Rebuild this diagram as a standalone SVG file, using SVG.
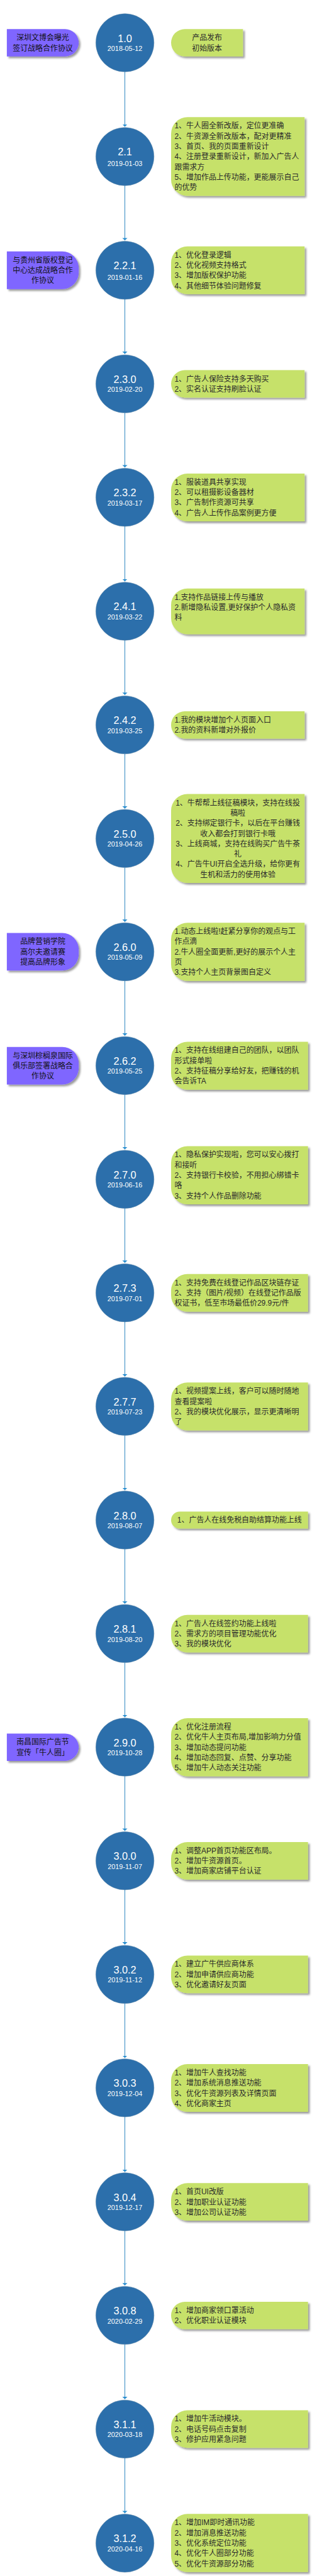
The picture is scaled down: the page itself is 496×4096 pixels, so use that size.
<svg xmlns="http://www.w3.org/2000/svg" width="496" height="4096" viewBox="0 0 496 4096">
<style>
text{font-family:"Liberation Sans","Noto Sans CJK SC",sans-serif}
.c{fill:#2c6fab;stroke:#5d87a8;stroke-width:1}
.g{fill:#c6e16b;filter:url(#s)}
.p{fill:#7f66ff;filter:url(#s)}
.v{font-size:30px;fill:#fff;text-anchor:middle}
.d{font-size:20px;fill:#fff;text-anchor:middle}
.t{font-size:22px;fill:#2a2a2a}
.m{font-size:22px;fill:#2a2a2a;text-anchor:middle}
.k{font-size:22px;fill:#111;text-anchor:middle}
.l{stroke:#2d86c0;stroke-width:1.8;fill:none;marker-end:url(#a)}
</style>
<defs>
<filter id="s" x="-10%" y="-15%" width="120%" height="130%"><feDropShadow dx="5" dy="5" stdDeviation="3" flood-color="#000" flood-opacity="0.4"/></filter>
<marker id="a" markerUnits="userSpaceOnUse" markerWidth="8" markerHeight="15" refX="7" refY="7.5" orient="auto"><path d="M0,0L7,7.5L0,15Z" fill="#2b8fd0"/></marker>
</defs>
<rect width="496" height="4096" fill="#fff"/>
<g transform="scale(0.544)">
<g id="connectors" transform="translate(-0.1,0)">
<line class="l" x1="365" y1="210" x2="365" y2="370.2"/>
<line class="l" x1="365" y1="542.6" x2="365" y2="702.6"/>
<line class="l" x1="365" y1="875" x2="365" y2="1034.6"/>
<line class="l" x1="365" y1="1207" x2="365" y2="1366.3"/>
<line class="l" x1="365" y1="1538.7" x2="365" y2="1699.3"/>
<line class="l" x1="365" y1="1871.7" x2="365" y2="2031.4"/>
<line class="l" x1="365" y1="2203.8" x2="365" y2="2363.6"/>
<line class="l" x1="365" y1="2536" x2="365" y2="2694.6"/>
<line class="l" x1="365" y1="2867" x2="365" y2="3027.3"/>
<line class="l" x1="365" y1="3199.7" x2="365" y2="3359.6"/>
<line class="l" x1="365" y1="3532" x2="365" y2="3691.4"/>
<line class="l" x1="365" y1="3863.8" x2="365" y2="4023.3"/>
<line class="l" x1="365" y1="4195.7" x2="365" y2="4355.6"/>
<line class="l" x1="365" y1="4528" x2="365" y2="4687.4"/>
<line class="l" x1="365" y1="4859.8" x2="365" y2="5019.3"/>
<line class="l" x1="365" y1="5191.7" x2="365" y2="5351.6"/>
<line class="l" x1="365" y1="5524" x2="365" y2="5683.6"/>
<line class="l" x1="365" y1="5856" x2="365" y2="6015.3"/>
<line class="l" x1="365" y1="6187.7" x2="365" y2="6348.4"/>
<line class="l" x1="365" y1="6520.8" x2="365" y2="6680.3"/>
<line class="l" x1="365" y1="6852.7" x2="365" y2="7012.6"/>
<line class="l" x1="365" y1="7185" x2="365" y2="7346.1"/>
</g>

<g id="event-1-0"><path class="p" d="M20,85H190A40,40 0 0 1 230,125A40,40 0 0 1 190,165H20Z"/><text class="k" x="125" y="118">深圳文博会曝光</text><text class="k" x="125" y="148">签订战略合作协议</text></g>
<g id="v-1-0"><circle class="c" cx="365" cy="125" r="85"/><text class="v" x="365" y="122.3">1.0</text><text class="d" x="365" y="149">2018-05-12</text></g>
<g id="note-1-0"><path class="g" d="M540,85H710V165H540A40,40 0 0 1 500,125A40,40 0 0 1 540,85Z"/><text class="m" x="605" y="118">产品发布</text><text class="m" x="605" y="148">初始版本</text></g>

<g id="v-2-1"><circle class="c" cx="365" cy="457.6" r="85"/><text class="v" x="365" y="454.9">2.1</text><text class="d" x="365" y="485.6">2019-01-03</text></g>
<g id="note-2-1"><path class="g" d="M548,342.6H890V572.6H548A48,48 0 0 1 500,524.6V390.6A48,48 0 0 1 548,342.6Z"/><text class="t" x="510" y="375.6">1、牛人圈全新改版，定位更准确</text><text class="t" x="510" y="405.6">2、牛资源全新改版本，配对更精准</text><text class="t" x="510" y="435.6">3、首页、我的页面重新设计</text><text class="t" x="510" y="465.6">4、注册登录重新设计，新加入广告人</text><text class="t" x="510" y="495.6">跟需求方</text><text class="t" x="510" y="525.6">5、增加作品上传功能，更能展示自己</text><text class="t" x="510" y="555.6">的优势</text></g>

<g id="event-2-2-1"><path class="p" d="M20,735H182A48,48 0 0 1 230,783V797A48,48 0 0 1 182,845H20Z"/><text class="k" x="125" y="768">与贵州省版权登记</text><text class="k" x="125" y="798">中心达成战略合作</text><text class="k" x="125" y="828">作协议</text></g>
<g id="v-2-2-1"><circle class="c" cx="365" cy="790" r="85"/><text class="v" x="365" y="787.3">2.2.1</text><text class="d" x="365" y="818">2019-01-16</text></g>
<g id="note-2-2-1"><path class="g" d="M548,720H890V860H548A48,48 0 0 1 500,812V768A48,48 0 0 1 548,720Z"/><text class="t" x="510" y="753">1、优化登录逻辑</text><text class="t" x="510" y="783">2、优化视频支持格式</text><text class="t" x="510" y="813">3、增加版权保护功能</text><text class="t" x="510" y="843">4、其他细节体验问题修复</text></g>

<g id="v-2-3-0"><circle class="c" cx="365" cy="1122" r="85"/><text class="v" x="365" y="1119.3">2.3.0</text><text class="d" x="365" y="1146">2019-02-20</text></g>
<g id="note-2-3-0"><path class="g" d="M540,1082H890V1162H540A40,40 0 0 1 500,1122A40,40 0 0 1 540,1082Z"/><text class="t" x="510" y="1115">1、广告人保险支持多天购买</text><text class="t" x="510" y="1145">2、实名认证支持刷脸认证</text></g>

<g id="v-2-3-2"><circle class="c" cx="365" cy="1453.7" r="85"/><text class="v" x="365" y="1451">2.3.2</text><text class="d" x="365" y="1477.7">2019-03-17</text></g>
<g id="note-2-3-2"><path class="g" d="M548,1384H890V1524H548A48,48 0 0 1 500,1476V1432A48,48 0 0 1 548,1384Z"/><text class="t" x="510" y="1417">1、服装道具共享实现</text><text class="t" x="510" y="1447">2、可以租摄影设备器材</text><text class="t" x="510" y="1477">3、广告制作资源可共享</text><text class="t" x="510" y="1507">4、广告人上传作品案例更方便</text></g>

<g id="v-2-4-1"><circle class="c" cx="365" cy="1786.7" r="85"/><text class="v" x="365" y="1784">2.4.1</text><text class="d" x="365" y="1810.7">2019-03-22</text></g>
<g id="note-2-4-1"><path class="g" d="M548,1720H890V1854H548A48,48 0 0 1 500,1806V1768A48,48 0 0 1 548,1720Z"/><text class="t" x="510" y="1753">1.支持作品链接上传与播放</text><text class="t" x="510" y="1783">2.新增隐私设置,更好保护个人隐私资</text><text class="t" x="510" y="1813">料</text></g>

<g id="v-2-4-2"><circle class="c" cx="365" cy="2118.8" r="85"/><text class="v" x="365" y="2116.1">2.4.2</text><text class="d" x="365" y="2142.8">2019-03-25</text></g>
<g id="note-2-4-2"><path class="g" d="M540,2079H890V2159H540A40,40 0 0 1 500,2119A40,40 0 0 1 540,2079Z"/><text class="t" x="510" y="2112">1.我的模块增加个人页面入口</text><text class="t" x="510" y="2142">2.我的资料新增对外报价</text></g>

<g id="v-2-5-0"><circle class="c" cx="365" cy="2451" r="85"/><text class="v" x="365" y="2448.3">2.5.0</text><text class="d" x="365" y="2475">2019-04-26</text></g>
<g id="note-2-5-0"><path class="g" d="M548,2321H890V2581H548A48,48 0 0 1 500,2533V2369A48,48 0 0 1 548,2321Z"/><text class="m" x="695" y="2354">1、牛帮帮上线征稿模块，支持在线投</text><text class="m" x="695" y="2384">稿啦</text><text class="m" x="695" y="2414">2、支持绑定银行卡，以后在平台赚钱</text><text class="m" x="695" y="2444">收入都会打到银行卡哦</text><text class="m" x="695" y="2474">3、上线商城，支持在线购买广告牛茶</text><text class="m" x="695" y="2504">礼</text><text class="m" x="695" y="2534">4、广告牛UI开启全选升级，给你更有</text><text class="m" x="695" y="2564">生机和活力的使用体验</text></g>

<g id="event-2-6-0"><path class="p" d="M20,2727H182A48,48 0 0 1 230,2775V2789A48,48 0 0 1 182,2837H20Z"/><text class="k" x="125" y="2760">品牌营销学院</text><text class="k" x="125" y="2790">高尔夫邀请赛</text><text class="k" x="125" y="2820">提高品牌形象</text></g>
<g id="v-2-6-0"><circle class="c" cx="365" cy="2782" r="85"/><text class="v" x="365" y="2779.3">2.6.0</text><text class="d" x="365" y="2806">2019-05-09</text></g>
<g id="note-2-6-0"><path class="g" d="M548,2697H890V2867H548A48,48 0 0 1 500,2819V2745A48,48 0 0 1 548,2697Z"/><text class="t" x="510" y="2730">1.动态上线啦!赶紧分享你的观点与工</text><text class="t" x="510" y="2760">作点滴</text><text class="t" x="510" y="2790">2.牛人圈全面更新,更好的展示个人主</text><text class="t" x="510" y="2820">页</text><text class="t" x="510" y="2850">3.支持个人主页背景图自定义</text></g>

<g id="event-2-6-2"><path class="p" d="M20,3060H182A48,48 0 0 1 230,3108V3122A48,48 0 0 1 182,3170H20Z"/><text class="k" x="125" y="3093">与深圳棕榈泉国际</text><text class="k" x="125" y="3123">俱乐部签署战略合</text><text class="k" x="125" y="3153">作协议</text></g>
<g id="v-2-6-2"><circle class="c" cx="365" cy="3114.7" r="85"/><text class="v" x="365" y="3112">2.6.2</text><text class="d" x="365" y="3138.7">2019-05-25</text></g>
<g id="note-2-6-2"><path class="g" d="M548,3045H900V3185H548A48,48 0 0 1 500,3137V3093A48,48 0 0 1 548,3045Z"/><text class="t" x="510" y="3078">1、支持在线组建自己的团队，以团队</text><text class="t" x="510" y="3108">形式接单啦</text><text class="t" x="510" y="3138">2、支持征稿分享给好友，把赚钱的机</text><text class="t" x="510" y="3168">会告诉TA</text></g>

<g id="v-2-7-0"><circle class="c" cx="365" cy="3447" r="85"/><text class="v" x="365" y="3444.3">2.7.0</text><text class="d" x="365" y="3471">2019-06-16</text></g>
<g id="note-2-7-0"><path class="g" d="M548,3350H900V3520H548A48,48 0 0 1 500,3472V3398A48,48 0 0 1 548,3350Z"/><text class="t" x="510" y="3383">1、隐私保护实现啦，您可以安心拨打</text><text class="t" x="510" y="3413">和接听</text><text class="t" x="510" y="3443">2、支持银行卡校验，不用担心绑错卡</text><text class="t" x="510" y="3473">咯</text><text class="t" x="510" y="3503">3、支持个人作品删除功能</text></g>

<g id="v-2-7-3"><circle class="c" cx="365" cy="3778.8" r="85"/><text class="v" x="365" y="3776.1">2.7.3</text><text class="d" x="365" y="3802.8">2019-07-01</text></g>
<g id="note-2-7-3"><path class="g" d="M548,3724H900V3834H548A48,48 0 0 1 500,3786V3772A48,48 0 0 1 548,3724Z"/><text class="t" x="510" y="3757">1、支持免费在线登记作品区块链存证</text><text class="t" x="510" y="3787">2、支持（图片/视频）在线登记作品版</text><text class="t" x="510" y="3817">权证书，低至市场最低价29.9元/件</text></g>

<g id="v-2-7-7"><circle class="c" cx="365" cy="4110.7" r="85"/><text class="v" x="365" y="4108">2.7.7</text><text class="d" x="365" y="4134.7">2019-07-23</text></g>
<g id="note-2-7-7"><path class="g" d="M548,4041H900V4181H548A48,48 0 0 1 500,4133V4089A48,48 0 0 1 548,4041Z"/><text class="t" x="510" y="4074">1、视频提案上线，客户可以随时随地</text><text class="t" x="510" y="4104">查看提案啦</text><text class="t" x="510" y="4134">2、我的模块优化展示，显示更清晰明</text><text class="t" x="510" y="4164">了</text></g>

<g id="v-2-8-0"><circle class="c" cx="365" cy="4443" r="85"/><text class="v" x="365" y="4440.3">2.8.0</text><text class="d" x="365" y="4467">2019-08-07</text></g>
<g id="note-2-8-0"><path class="g" d="M525,4418H900V4468H525A25,25 0 0 1 500,4443A25,25 0 0 1 525,4418Z"/><text class="m" x="700" y="4451">1、广告人在线免税自助结算功能上线</text></g>

<g id="v-2-8-1"><circle class="c" cx="365" cy="4774.8" r="85"/><text class="v" x="365" y="4772.1">2.8.1</text><text class="d" x="365" y="4798.8">2019-08-20</text></g>
<g id="note-2-8-1"><path class="g" d="M548,4720H900V4830H548A48,48 0 0 1 500,4782V4768A48,48 0 0 1 548,4720Z"/><text class="t" x="510" y="4753">1、广告人在线签约功能上线啦</text><text class="t" x="510" y="4783">2、需求方的项目管理功能优化</text><text class="t" x="510" y="4813">3、我的模块优化</text></g>

<g id="event-2-9-0"><path class="p" d="M20,5067H190A40,40 0 0 1 230,5107A40,40 0 0 1 190,5147H20Z"/><text class="k" x="125" y="5100">南昌国际广告节</text><text class="k" x="125" y="5130">宣传「牛人圈」</text></g>
<g id="v-2-9-0"><circle class="c" cx="365" cy="5106.7" r="85"/><text class="v" x="365" y="5104">2.9.0</text><text class="d" x="365" y="5130.7">2019-10-28</text></g>
<g id="note-2-9-0"><path class="g" d="M548,5022H900V5192H548A48,48 0 0 1 500,5144V5070A48,48 0 0 1 548,5022Z"/><text class="t" x="510" y="5055">1、优化注册流程</text><text class="t" x="510" y="5085">2、优化牛人主页布局,增加影响力分值</text><text class="t" x="510" y="5115">3、增加动态提问功能</text><text class="t" x="510" y="5145">4、增加动态回复、点赞、分享功能</text><text class="t" x="510" y="5175">5、增加牛人动态关注功能</text></g>

<g id="v-3-0-0"><circle class="c" cx="365" cy="5439" r="85"/><text class="v" x="365" y="5436.3">3.0.0</text><text class="d" x="365" y="5463">2019-11-07</text></g>
<g id="note-3-0-0"><path class="g" d="M548,5384H900V5494H548A48,48 0 0 1 500,5446V5432A48,48 0 0 1 548,5384Z"/><text class="t" x="510" y="5417">1、调整APP首页功能区布局。</text><text class="t" x="510" y="5447">2、增加牛资源首页。</text><text class="t" x="510" y="5477">3、增加商家店铺平台认证</text></g>

<g id="v-3-0-2"><circle class="c" cx="365" cy="5771" r="85"/><text class="v" x="365" y="5768.3">3.0.2</text><text class="d" x="365" y="5795">2019-11-12</text></g>
<g id="note-3-0-2"><path class="g" d="M548,5716H900V5826H548A48,48 0 0 1 500,5778V5764A48,48 0 0 1 548,5716Z"/><text class="t" x="510" y="5749">1、建立广牛供应商体系</text><text class="t" x="510" y="5779">2、增加申请供应商功能</text><text class="t" x="510" y="5809">3、优化邀请好友页面</text></g>

<g id="v-3-0-3"><circle class="c" cx="365" cy="6102.7" r="85"/><text class="v" x="365" y="6100">3.0.3</text><text class="d" x="365" y="6126.7">2019-12-04</text></g>
<g id="note-3-0-3"><path class="g" d="M548,6033H900V6173H548A48,48 0 0 1 500,6125V6081A48,48 0 0 1 548,6033Z"/><text class="t" x="510" y="6066">1、增加牛人查找功能</text><text class="t" x="510" y="6096">2、增加系统消息推送功能</text><text class="t" x="510" y="6126">3、优化牛资源列表及详情页面</text><text class="t" x="510" y="6156">4、优化商家主页</text></g>

<g id="v-3-0-4"><circle class="c" cx="365" cy="6435.8" r="85"/><text class="v" x="365" y="6433.1">3.0.4</text><text class="d" x="365" y="6459.8">2019-12-17</text></g>
<g id="note-3-0-4"><path class="g" d="M548,6381H900V6491H548A48,48 0 0 1 500,6443V6429A48,48 0 0 1 548,6381Z"/><text class="t" x="510" y="6414">1、首页UI改版</text><text class="t" x="510" y="6444">2、增加职业认证功能</text><text class="t" x="510" y="6474">3、增加公司认证功能</text></g>

<g id="v-3-0-8"><circle class="c" cx="365" cy="6767.7" r="85"/><text class="v" x="365" y="6765">3.0.8</text><text class="d" x="365" y="6791.7">2020-02-29</text></g>
<g id="note-3-0-8"><path class="g" d="M540,6728H900V6808H540A40,40 0 0 1 500,6768A40,40 0 0 1 540,6728Z"/><text class="t" x="510" y="6761">1、增加商家领口罩活动</text><text class="t" x="510" y="6791">2、优化职业认证模块</text></g>

<g id="v-3-1-1"><circle class="c" cx="365" cy="7100" r="85"/><text class="v" x="365" y="7097.3">3.1.1</text><text class="d" x="365" y="7124">2020-03-18</text></g>
<g id="note-3-1-1"><path class="g" d="M548,7045H900V7155H548A48,48 0 0 1 500,7107V7093A48,48 0 0 1 548,7045Z"/><text class="t" x="510" y="7078">1、增加牛活动模块。</text><text class="t" x="510" y="7108">2、电话号码点击复制</text><text class="t" x="510" y="7138">3、修护应用紧急问题</text></g>

<g id="v-3-1-2"><circle class="c" cx="365" cy="7433.5" r="85"/><text class="v" x="365" y="7430.8">3.1.2</text><text class="d" x="365" y="7457.5">2020-04-16</text></g>
<g id="note-3-1-2"><path class="g" d="M548,7348H900V7518H548A48,48 0 0 1 500,7470V7396A48,48 0 0 1 548,7348Z"/><text class="t" x="510" y="7381">1、增加IM即时通讯功能</text><text class="t" x="510" y="7411">2、增加消息推送功能</text><text class="t" x="510" y="7441">3、优化系统定位功能</text><text class="t" x="510" y="7471">4、优化牛人圈部分功能</text><text class="t" x="510" y="7501">5、优化牛资源部分功能</text></g>
</g>
</svg>
